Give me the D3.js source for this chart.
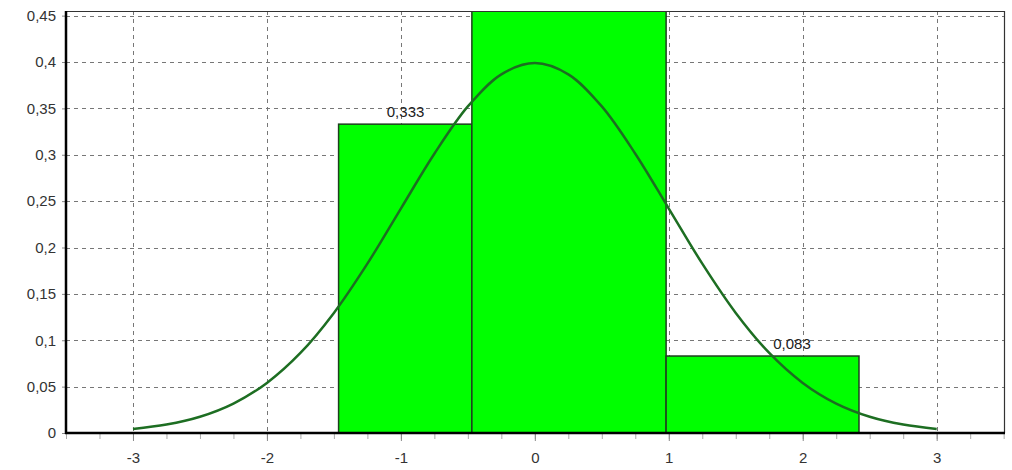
<!DOCTYPE html>
<html><head><meta charset="utf-8">
<script src="https://cdn.jsdelivr.net/npm/d3@7"></script>
<style>body{margin:0;background:#fff;}svg{display:block;}</style>
</head><body>
<svg id="c" width="1012" height="470"></svg>
<script>
// ---- data ----
const binEdges = [-1.465, -0.47, 0.98, 2.42];
const binHeights = [0.333, 0.583, 0.083];
const binLabels = ["0,333", "", "0,083"];
const binLabelX = [-0.965, 0.25, 1.92];
const curveX = [-3,-2.75,-2.5,-2.25,-2,-1.75,-1.5,-1.25,-1,-0.75,-0.5,-0.25,0,0.25,0.5,0.75,1,1.25,1.5,1.75,2,2.25,2.5,2.75,3];
const curveY = [0.0044,0.0091,0.0175,0.0317,0.054,0.0863,0.1295,0.1826,0.242,0.3011,0.3521,0.3867,0.3989,0.3867,0.3521,0.3011,0.242,0.1826,0.1295,0.0863,0.054,0.0317,0.0175,0.0091,0.0044];
const xTicks = [-3,-2,-1,0,1,2,3];
const xTickLabels = ["-3","-2","-1","0","1","2","3"];
const yTicks = [0,0.05,0.1,0.15,0.2,0.25,0.3,0.35,0.4,0.45];
const yTickLabels = ["0","0,05","0,1","0,15","0,2","0,25","0,3","0,35","0,4","0,45"];
const xMinorTicks = d3.range(-3.5, 3.51, 0.25);

// ---- layout ----
const L = 66, R = 1005, T = 11, B = 433;
const svg = d3.select("#c");
const x = d3.scaleLinear().domain([-3.5, 3.51]).range([L, R]);
const y = d3.scaleLinear().domain([0, 0.455]).range([B, T]);
const font = "Liberation Sans, Arial, sans-serif";
const fs = 15;

svg.append("defs").append("clipPath").attr("id","clip")
  .append("rect").attr("x",L).attr("y",T).attr("width",R-L).attr("height",B-T);

// grid
const grid = svg.append("g").attr("stroke","#777").attr("stroke-width",1).attr("stroke-dasharray","4,4");
grid.selectAll("line.h").data(yTicks.filter(d=>d>0)).join("line")
  .attr("x1",L).attr("x2",R).attr("y1",d=>Math.round(y(d))+0.5).attr("y2",d=>Math.round(y(d))+0.5);
grid.selectAll("line.v").data(xTicks).join("line")
  .attr("y1",T).attr("y2",B).attr("x1",d=>Math.round(x(d))+0.5).attr("x2",d=>Math.round(x(d))+0.5);

// bars
const bars = binHeights.map((h,i)=>({x0:binEdges[i], x1:binEdges[i+1], h, label:binLabels[i], lx:binLabelX[i]}));
const plot = svg.append("g").attr("clip-path","url(#clip)");
plot.selectAll("rect.bar").data(bars).join("rect")
  .attr("x",d=>x(d.x0)).attr("y",d=>y(d.h))
  .attr("width",d=>x(d.x1)-x(d.x0)).attr("height",d=>B-y(d.h))
  .attr("fill","#00ff00").attr("stroke","#1f3f1f").attr("stroke-width",1.5);

// labels
svg.selectAll("text.bl").data(bars.filter(d=>d.label)).join("text")
  .attr("x",d=>x(d.lx)).attr("y",d=>y(d.h)-7)
  .attr("text-anchor","middle").attr("font-family",font).attr("font-size",fs).attr("fill","#222")
  .text(d=>d.label);

// curve
const pts = curveX.map((v,i)=>[v,curveY[i]]);
plot.append("path").datum(pts)
  .attr("d", d3.line().x(d=>x(d[0])).y(d=>y(d[1])).curve(d3.curveCatmullRom))
  .attr("fill","none").attr("stroke","#1d6e22").attr("stroke-width",2.5);

// frame
svg.append("line").attr("x1",L).attr("x2",R).attr("y1",T+0.5).attr("y2",T+0.5).attr("stroke","#333").attr("stroke-width",1.2);
svg.append("line").attr("x1",R-0.5).attr("x2",R-0.5).attr("y1",T).attr("y2",B).attr("stroke","#333").attr("stroke-width",1.2);

// y axis
const yAxis = d3.axisLeft(y).tickValues(yTicks).tickSize(4).tickFormat((d,i)=>yTickLabels[i]);
const gy = svg.append("g").attr("transform",`translate(${L},0)`).call(yAxis);
gy.select(".domain").remove();
gy.selectAll(".tick line").attr("stroke","#888");
gy.selectAll(".tick text").attr("font-family",font).attr("font-size",fs).attr("fill","#333").attr("x",-10);
svg.append("line").attr("x1",L).attr("x2",L).attr("y1",T).attr("y2",B+1).attr("stroke","#000").attr("stroke-width",2.5);

// x axis minor
const gxm = svg.append("g").attr("transform",`translate(0,${B})`)
  .call(d3.axisBottom(x).tickValues(xMinorTicks).tickSize(6).tickFormat(""));
gxm.select(".domain").remove();
gxm.selectAll(".tick line").attr("stroke","#aaa");
const xAxis = d3.axisBottom(x).tickValues(xTicks).tickSize(8).tickFormat((d,i)=>xTickLabels[i]);
const gx = svg.append("g").attr("transform",`translate(0,${B})`).call(xAxis);
gx.select(".domain").remove();
gx.selectAll(".tick line").attr("stroke","#888");
gx.selectAll(".tick text").attr("font-family",font).attr("font-size",fs).attr("fill","#333").attr("y",19);
svg.append("line").attr("x1",L-1).attr("x2",R).attr("y1",B).attr("y2",B).attr("stroke","#000").attr("stroke-width",2.5);
</script>
</body></html>
